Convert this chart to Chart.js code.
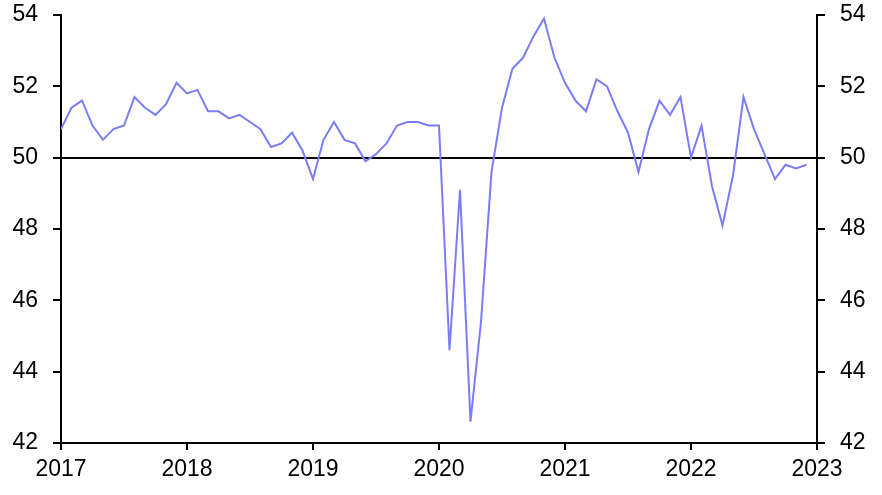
<!DOCTYPE html>
<html>
<head>
<meta charset="utf-8">
<script src="https://cdn.jsdelivr.net/npm/chart.js@4"></script>
<style>
  html, body { margin: 0; padding: 0; background: #fff; }
  #wrap { width: 882px; height: 495px; }
</style>
</head>
<body>
<div id="wrap"><canvas id="chart" width="882" height="495"></canvas></div>
<script>
// monthly readings, Jan 2017 - Dec 2022
const startYear = 2017;
const yearTicks = [2017, 2018, 2019, 2020, 2021, 2022, 2023];
const values = [
  50.8, 51.4, 51.6, 50.9, 50.5, 50.8, 50.9, 51.7, 51.4, 51.2, 51.5, 52.1,
  51.8, 51.9, 51.3, 51.3, 51.1, 51.2, 51.0, 50.8, 50.3, 50.4, 50.7, 50.2,
  49.4, 50.5, 51.0, 50.5, 50.4, 49.9, 50.1, 50.4, 50.9, 51.0, 51.0, 50.9,
  50.9, 44.6, 49.1, 42.6, 45.4, 49.6, 51.4, 52.5, 52.8, 53.4, 53.9, 52.8,
  52.1, 51.6, 51.3, 52.2, 52.0, 51.3, 50.7, 49.6, 50.8, 51.6, 51.2, 51.7,
  50.0, 50.9, 49.2, 48.1, 49.5, 51.7, 50.8, 50.1, 49.4, 49.8, 49.7, 49.8
];
const yTicks = [42, 44, 46, 48, 50, 52, 54];
const refLine = 50;

const points = values.map((v, i) => ({ x: i, y: v }));

const font = { family: 'Liberation Sans, Arial, sans-serif', size: 23 };

const yAxis = (pos, w) => ({
  position: pos,
  min: yTicks[0],
  max: yTicks[yTicks.length - 1],
  afterFit: s => { s.width = w; s.paddingTop = 0; s.paddingBottom = 0; },
  border: { color: '#000', width: 2 },
  grid: {
    drawOnChartArea: pos === 'left',
    color: c => (c.tick && c.tick.value === refLine) ? '#000' : 'rgba(0,0,0,0)',
    lineWidth: 2,
    tickColor: '#000',
    tickLength: 8
  },
  afterBuildTicks: s => { s.ticks = yTicks.map(v => ({ value: v })); },
  ticks: { color: '#000', font: font, padding: 15 }
});

new Chart(document.getElementById('chart'), {
  type: 'line',
  data: {
    datasets: [{
      data: points,
      borderColor: '#7b7cf6',
      borderWidth: 2,
      pointRadius: 0,
      tension: 0,
      yAxisID: 'y'
    }]
  },
  options: {
    responsive: false,
    animation: false,
    layout: { padding: { top: 15, left: 0, right: 0, bottom: 0 } },
    plugins: { legend: { display: false }, tooltip: { enabled: false } },
    scales: {
      x: {
        type: 'linear',
        min: 0,
        max: (yearTicks.length - 1) * 12,
        afterFit: s => { s.height = 52; s.paddingLeft = 0; s.paddingRight = 0; },
        border: { color: '#000', width: 2 },
        grid: { drawOnChartArea: false, tickColor: '#000', tickLength: 7, lineWidth: 2 },
        afterBuildTicks: s => { s.ticks = yearTicks.map(y => ({ value: (y - startYear) * 12 })); },
        ticks: {
          color: '#000', font: font, padding: 6, maxRotation: 0,
          callback: v => String(startYear + v / 12)
        }
      },
      y: yAxis('left', 61),
      y2: yAxis('right', 65)
    }
  }
});
</script>
</body>
</html>
